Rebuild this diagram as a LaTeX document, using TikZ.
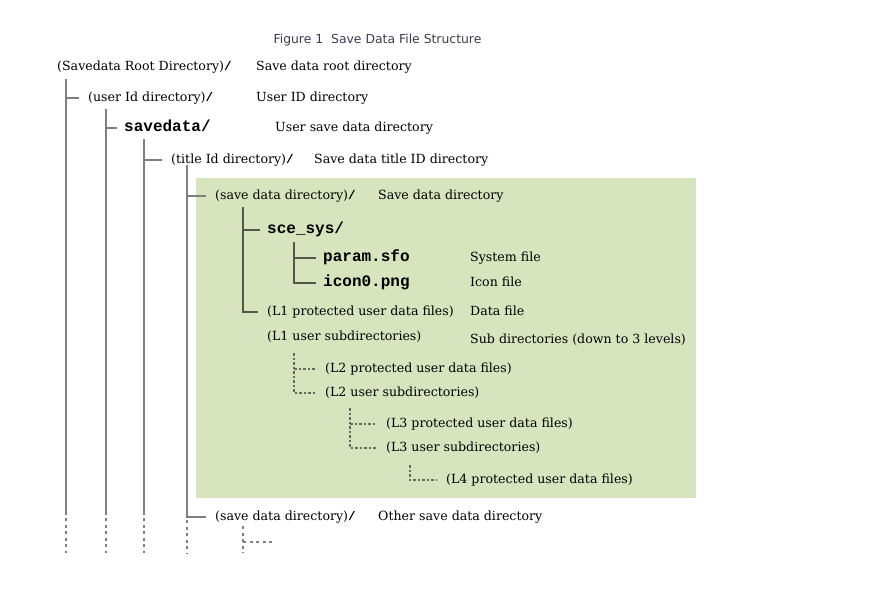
\documentclass[tikz,border=0pt]{standalone}
\usepackage{fontspec}
\setmainfont{DejaVu Serif}
\newfontfamily\monofont{Liberation Mono}
\newfontfamily\titlefont{DejaVu Sans}
\definecolor{boxgreen}{HTML}{D7E4BD}
\definecolor{outline}{HTML}{7F7F7F}
\definecolor{inline}{HTML}{55574A}
\definecolor{titlecol}{HTML}{3A3F4F}
\newcommand{\mb}[1]{{\monofont\bfseries #1}}
\begin{document}
\begin{tikzpicture}[x=1pt,y=-1pt,
  txt/.style={anchor=west,inner xsep=0pt,inner ysep=0pt,font=\fontsize{12.6}{14}\selectfont,text height=9pt,text depth=3pt},
  item/.style={txt,inner xsep=9pt},
  mtxt/.style={inner xsep=7pt,font=\fontsize{16}{17}\selectfont\monofont\bfseries},
  tree/.style={draw=outline,line width=1.3pt},
  intree/.style={draw=inline,line width=1.1pt},
  dtree/.style={draw=outline,line width=1.2pt,dash pattern=on 3pt off 3.5pt},
  indtree/.style={draw=inline!90,line width=1.1pt,dash pattern=on 2.5pt off 2pt}]
\useasboundingbox (0,0) rectangle (880,595);
\fill[boxgreen] (196,178) rectangle (696,498);
% title
\node[font=\fontsize{12.4}{14}\selectfont\titlefont,text=titlecol] (title) at (377.5,40) {Figure 1\ \ Save Data File Structure};
% tree nodes
\node[txt] (root) at (57,67) {(Savedata Root Directory)\mb{/}};
\node[item] (user) at (79,98) {(user Id directory)\mb{/}};
\node[item,mtxt] (savedata) at (117,128) {savedata/};
\node[item] (titleid) at (162,160) {(title Id directory)\mb{/}};
\node[item] (savedir) at (206,196) {(save data directory)\mb{/}};
\node[item,mtxt] (scesys) at (260,230) {sce\_sys/};
\node[item,mtxt] (param) at (316,258) {param.sfo};
\node[item,mtxt] (icon) at (316,283) {icon0.png};
\node[item] (lonep) at (258,312) {(L1 protected user data files)};
\node[txt] (lones) at (267,337) {(L1 user subdirectories)};
\node[item] (ltwop) at (316,369) {(L2 protected user data files)};
\node[item] (ltwos) at (316,393) {(L2 user subdirectories)};
\node[item] (lthreep) at (377,424) {(L3 protected user data files)};
\node[item] (lthrees) at (377,448) {(L3 user subdirectories)};
\node[item] (lfourp) at (437,480) {(L4 protected user data files)};
\node[item] (othersave) at (206,517) {(save data directory)\mb{/}};
% descriptions
\node[txt] (d1) at (256,67) {Save data root directory};
\node[txt] (d2) at (256,98) {User ID directory};
\node[txt] (d3) at (275,128) {User save data directory};
\node[txt] (d4) at (314,160) {Save data title ID directory};
\node[txt] (d5) at (378,196) {Save data directory};
\node[txt] (d6) at (470,258) {System file};
\node[txt] (d7) at (470,283) {Icon file};
\node[txt] (d8) at (470,312) {Data file};
\node[txt] (d9) at (470,340) {Sub directories (down to 3 levels)};
\node[txt] (d10) at (378,517) {Other save data directory};
% coordinates of tree trunks
\coordinate (atop) at (66,79);   \coordinate (aend) at (66,515);  \coordinate (adash) at (66,553);
\coordinate (btop) at (106,109); \coordinate (bend) at (106,515); \coordinate (bdash) at (106,553);
\coordinate (ctop) at (144,139); \coordinate (cend) at (144,515); \coordinate (cdash) at (144,553);
\coordinate (dtop) at (187,165); \coordinate (dend) at (187,517); \coordinate (ddash) at (187,553);
\coordinate (etop) at (243,207);
\coordinate (ftop) at (294,242);
\coordinate (gtop) at (294,353);
\coordinate (htop) at (350,408);
\coordinate (itop) at (410,465);
\coordinate (jtop) at (243,526); \coordinate (jend) at (243,553); \coordinate (jbr) at (273,542);
% outer trunks
\draw[tree] (atop) -- (aend);
\draw[tree] (atop |- user.west) -- (user.west);
\draw[tree] (btop) -- (bend);
\draw[tree] (btop |- savedata.west) -- (savedata.west);
\draw[tree] (ctop) -- (cend);
\draw[tree] (ctop |- titleid.west) -- (titleid.west);
\draw[tree] (dtop) |- (othersave.west);
\draw[tree] (dtop |- savedir.west) -- (savedir.west);
\draw[dtree] (aend) ++(0,3) -- (adash);
\draw[dtree] (bend) ++(0,3) -- (bdash);
\draw[dtree] (cend) ++(0,3) -- (cdash);
\draw[dtree] (dend) ++(0,3) -- (ddash);
% inner trunks
\draw[intree] (etop) |- (lonep.west);
\draw[intree] (etop |- scesys.west) -- (scesys.west);
\draw[intree] (ftop) |- (icon.west);
\draw[intree] (ftop |- param.west) -- (param.west);
\draw[indtree] (gtop) |- (ltwos.west);
\draw[indtree] (gtop |- ltwop.west) -- (ltwop.west);
\draw[indtree] (htop) |- (lthrees.west);
\draw[indtree] (htop |- lthreep.west) -- (lthreep.west);
\draw[indtree] (itop) |- (lfourp.west);
\draw[dtree] (jtop) -- (jend);
\draw[dtree] (jtop |- jbr) -- (jbr);
\end{tikzpicture}
\end{document}
